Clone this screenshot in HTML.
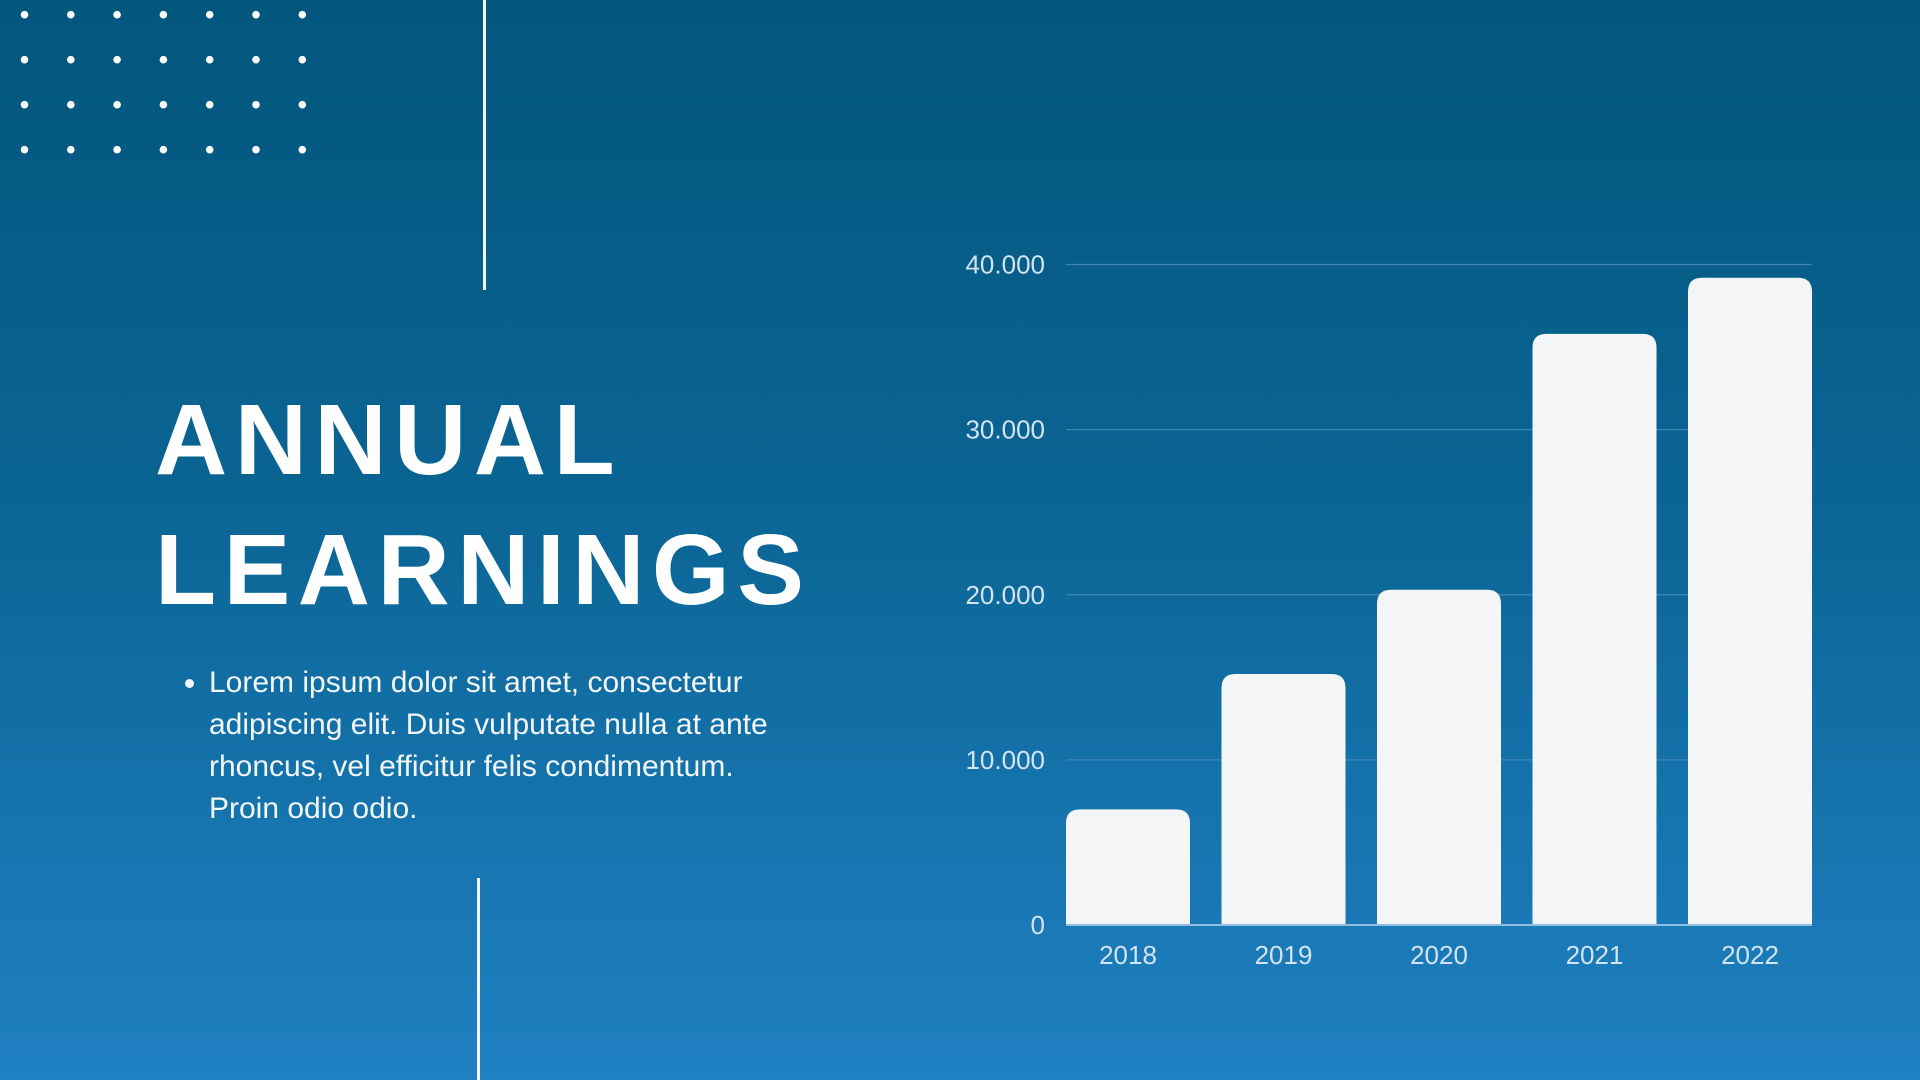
<!DOCTYPE html>
<html><head><meta charset="utf-8"><style>
html,body{margin:0;padding:0}
body{width:1920px;height:1080px;overflow:hidden;position:relative;background:linear-gradient(180deg,#03567c 0%,#0a6493 45%,#1f80c2 100%);font-family:"Liberation Sans",sans-serif;color:#fff}
.vl{position:absolute;width:3px;background:#f2f4f6}
h1{position:absolute;left:155px;top:0;margin:0;font-size:100px;font-weight:bold;letter-spacing:7.5px;line-height:120px}
ul{position:absolute;left:187px;top:662px;margin:0;padding:0 0 0 22px;width:590px;font-size:30px;line-height:42px;color:#f3f6f9}
svg{position:absolute;left:0;top:0}
</style></head><body>
<svg id="dots" width="320" height="170"></svg>
<div class="vl" style="left:483px;top:0;height:290px"></div>
<div class="vl" style="left:477px;top:878px;height:202px"></div>
<h1><div style="position:absolute;top:380px;white-space:nowrap">ANNUAL</div><div style="position:absolute;top:510px;white-space:nowrap">LEARNINGS</div></h1>
<ul><li>Lorem ipsum dolor sit amet, consectetur adipiscing elit. Duis vulputate nulla at ante rhoncus, vel efficitur felis condimentum. Proin odio odio.</li></ul>
<svg id="chart" width="1920" height="1080"></svg>
<script>
const categories=["2018","2019","2020","2021","2022"];
const values=[7000,15200,20300,35800,39200];
const yTicks=[0,10000,20000,30000,40000];
const yTickLabels=["0","10.000","20.000","30.000","40.000"];
const NS="http://www.w3.org/2000/svg";
function mk(p,t,a){const e=document.createElementNS(NS,t);for(const k in a)e.setAttribute(k,a[k]);p.appendChild(e);return e;}
const d=document.getElementById('dots');
for(let r=0;r<4;r++)for(let c=0;c<7;c++){const e=mk(d,'circle',{cx:24.5+c*46.3,cy:14.7+r*45,r:3.8,fill:'#fff'});

}
const svg=document.getElementById('chart');
const L=1066,R=1812,Y0=925,Y1=264.5,maxV=40000;
const y=v=>Y0-(v/maxV)*(Y0-Y1);
const bw=124,pitch=(R-L-bw)/(categories.length-1);
const x=i=>L+i*pitch;
yTicks.forEach((t,i)=>{
 if(t>0){const g=mk(svg,'line',{x1:L,x2:R,y1:y(t),y2:y(t),stroke:'#3f86b4','stroke-width':1.2});
 
 }
 const tx=mk(svg,'text',{x:1045,y:y(t)+9,'text-anchor':'end','font-size':26,fill:'#d3e3ef','font-family':'Liberation Sans, sans-serif'});
 tx.textContent=yTickLabels[i];
 
 
});
values.forEach((v,i)=>{
 const x0=x(i),yt=y(v),r=14;
 const p=mk(svg,'path',{d:`M${x0},${Y0}V${yt+r}Q${x0},${yt} ${x0+r},${yt}H${x0+bw-r}Q${x0+bw},${yt} ${x0+bw},${yt+r}V${Y0}Z`,fill:'#f3f5f7'});
 
 
 const t=mk(svg,'text',{x:x0+bw/2,y:964,'text-anchor':'middle','font-size':26,fill:'#d3e3ef','font-family':'Liberation Sans, sans-serif'});
 t.textContent=categories[i];
 
 
});
const ax=mk(svg,'line',{x1:L,x2:R,y1:Y0,y2:Y0,stroke:'#8fc0e0','stroke-width':2});


</script>
</body></html>
